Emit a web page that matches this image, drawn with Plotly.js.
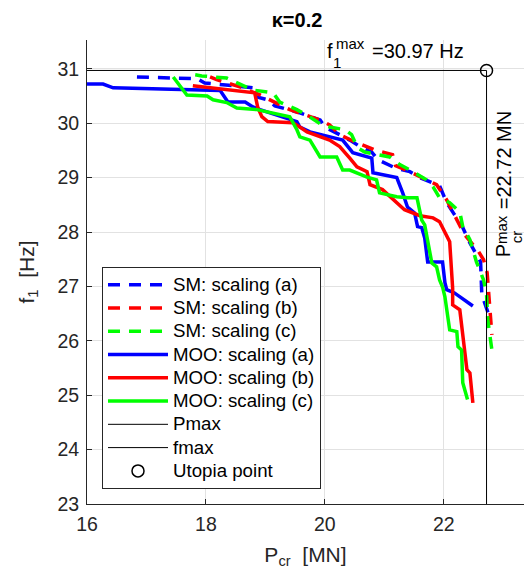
<!DOCTYPE html>
<html>
<head>
<meta charset="utf-8">
<script src="https://cdn.plot.ly/plotly-3.0.1.min.js"></script>
<style>html,body{margin:0;padding:0;background:#fff;}#chart{width:524px;height:571px;}</style>
</head>
<body>
<div id="chart"></div>
<script>
// ---- data ----
var smA_x = [16.84,17.85,17.98,18.66,18.82,18.84,19.04,19.16,19.58,19.92,20.00,20.25,20.42,20.62,20.79,20.89,21.18,21.43,21.60,21.93,22.05,22.18,22.30,22.44,22.62,22.64,22.77];
var smA_y = [30.85,30.82,30.74,30.67,30.65,30.49,30.43,30.32,30.19,30.06,29.93,29.79,29.69,29.55,29.47,29.33,29.18,29.11,29.00,28.85,28.54,28.32,28.13,27.80,27.45,26.85,26.44];

var smB_x = [18.07,18.18,18.57,18.91,19.41,19.92,20.08,20.25,20.50,20.84,21.14,21.19,21.43,21.88,22.05,22.22,22.35,22.57,22.67,22.73,22.77,22.81];
var smB_y = [30.85,30.80,30.67,30.52,30.25,30.06,29.97,29.79,29.66,29.51,29.42,29.22,29.11,28.87,28.59,28.22,27.95,27.67,27.49,27.25,26.76,26.11];

var smC_x = [17.82,17.93,18.35,18.66,18.79,19.13,19.24,19.53,19.70,19.92,20.08,20.34,20.45,20.55,20.67,21.09,21.26,21.43,21.71,21.82,21.93,22.10,22.27,22.32,22.44,22.55,22.67,22.72,22.74,22.81];
var smC_y = [30.89,30.87,30.83,30.67,30.61,30.56,30.39,30.25,30.15,29.99,29.93,29.88,29.79,29.55,29.47,29.38,29.24,29.14,28.96,28.83,28.63,28.54,28.37,28.10,27.86,27.45,27.12,26.85,26.39,25.83];

var mooA_x = [16.00,16.27,16.44,17.06,18.07,18.24,18.37,18.66,18.79,18.91,19.53,19.58,19.75,20.08,20.30,20.47,20.79,20.81,21.21,21.31,21.39,21.51,21.56,21.63,21.68,21.73,21.98,22.02,22.05,22.18,22.49];
var mooA_y = [30.72,30.72,30.65,30.63,30.61,30.60,30.39,30.39,30.30,30.25,30.03,29.93,29.84,29.75,29.69,29.46,29.36,29.09,29.00,28.72,28.46,28.35,28.10,28.08,27.89,27.45,27.45,27.07,26.94,26.88,26.64];

var mooB_x = [17.78,18.57,18.82,18.87,18.94,19.04,19.46,19.58,19.70,20.08,20.25,20.42,20.54,20.71,20.76,20.97,21.21,21.34,21.60,21.82,21.93,22.10,22.15,22.15,22.27,22.39,22.44,22.49];
var mooB_y = [30.69,30.58,30.56,30.30,30.12,30.03,30.01,29.93,29.84,29.69,29.57,29.36,29.20,29.11,28.87,28.78,28.54,28.41,28.30,28.26,28.19,27.82,26.97,26.66,26.57,25.47,25.41,24.86];

var mooC_x = [17.45,17.68,18.02,18.12,18.35,18.52,18.86,19.41,19.53,19.58,19.75,19.92,20.20,20.30,20.42,20.71,20.87,20.92,21.21,21.39,21.55,21.63,21.68,21.80,21.88,21.93,21.98,22.02,22.10,22.22,22.24,22.30,22.32,22.40];
var mooC_y = [30.85,30.52,30.50,30.43,30.38,30.28,30.25,30.12,29.88,29.75,29.69,29.38,29.38,29.14,29.14,29.01,28.96,28.72,28.65,28.63,28.63,28.22,28.13,27.43,27.36,27.12,26.99,26.81,26.20,26.17,25.89,25.83,25.23,24.92];

var pMax = 22.72;
var fMax = 30.97;
var xMin = 16, yMin = 23;

var legendNames = ['SM: scaling (a)','SM: scaling (b)','SM: scaling (c)','MOO: scaling (a)','MOO: scaling (b)','MOO: scaling (c)','Pmax','fmax','Utopia point'];
var xTicks = [16,18,20,22];
var yTicks = [23,24,25,26,27,28,29,30,31];
var titleText = '<b>κ=0.2</b>';

// ---- styles ----
var BLUE = '#0000ff', RED = '#ff0000', GREEN = '#00ff00';
var LW = 3.5, DASH = '12px,9px';
var FONT = 'Liberation Sans, Arial, Helvetica, sans-serif';
var INK = '#262626';

function legendLabel(s) { return '<span style="font-size:18.7px">' + s + '</span>'; }

function series(x, y, name, color, dash) {
  return {x: x, y: y, name: legendLabel(name), type: 'scatter', mode: 'lines',
          line: {color: color, width: LW, dash: dash}, hoverinfo: 'skip'};
}

var traces = [
  series(smA_x, smA_y, legendNames[0], BLUE, DASH),
  series(smB_x, smB_y, legendNames[1], RED, DASH),
  series(smC_x, smC_y, legendNames[2], GREEN, DASH),
  series(mooA_x, mooA_y, legendNames[3], BLUE, 'solid'),
  series(mooB_x, mooB_y, legendNames[4], RED, 'solid'),
  series(mooC_x, mooC_y, legendNames[5], GREEN, 'solid'),
  {x: [pMax, pMax], y: [yMin, fMax], name: legendLabel(legendNames[6]), type: 'scatter', mode: 'lines',
   line: {color: '#000000', width: 1}},
  {x: [xMin, pMax], y: [fMax, fMax], name: legendLabel(legendNames[7]), type: 'scatter', mode: 'lines',
   line: {color: '#000000', width: 1}},
  {x: [pMax], y: [fMax], name: legendLabel(legendNames[8]), type: 'scatter', mode: 'markers',
   marker: {symbol: 'circle-open', size: 12, color: '#000000', line: {width: 1.5, color: '#000000'}},
   cliponaxis: false}
];

var annFont = {family: FONT, size: 20, color: '#000'};
var supFont = {family: FONT, size: 15, color: '#000'};

var layout = {
  width: 524, height: 571,
  margin: {l: 87, r: 0, t: 40, b: 67, pad: 0},
  paper_bgcolor: '#ffffff', plot_bgcolor: '#ffffff',
  font: {family: FONT, color: INK},
  showlegend: true,
  title: {text: titleText, font: {family: FONT, size: 20, color: '#000'},
          xref: 'container', x: 297/524, xanchor: 'center',
          yref: 'container', y: 1 - 20/571, yanchor: 'middle'},
  xaxis: {range: [16, 23.35], tickmode: 'array', tickvals: xTicks, ticktext: xTicks.map(String),
          showgrid: true, gridcolor: '#e2e2e2', gridwidth: 1, zeroline: false,
          showline: true, linecolor: INK, linewidth: 1, mirror: false,
          ticks: 'inside', ticklen: 5, tickcolor: INK, tickwidth: 1,
          ticklabelstandoff: 3,
          tickfont: {family: FONT, size: 19.5, color: INK},
          title: {text: 'P<sub>cr</sub>  [MN]', font: {family: FONT, size: 21, color: INK}, standoff: 12},
          automargin: false},
  yaxis: {range: [23, 31.53], tickmode: 'array', tickvals: yTicks, ticktext: yTicks.map(String),
          showgrid: true, gridcolor: '#e2e2e2', gridwidth: 1, zeroline: false,
          showline: true, linecolor: INK, linewidth: 1, mirror: false,
          ticks: 'inside', ticklen: 5, tickcolor: INK, tickwidth: 1,
          ticklabelstandoff: 3,
          tickfont: {family: FONT, size: 19.5, color: INK},
          title: {text: 'f<sub>1</sub>  [Hz]', font: {family: FONT, size: 21, color: INK}, standoff: 17},
          automargin: false},
  legend: {x: (102-87)/437, y: (504-267)/464, xanchor: 'left', yanchor: 'top',
           bgcolor: '#ffffff', bordercolor: INK, borderwidth: 1,
           font: {family: FONT, size: 15.6, color: '#000'},
           itemwidth: 60, tracegroupgap: 0},
  annotations: [
    {xref: 'x', yref: 'y', x: 20.087, y: 31.33, text: 'f', showarrow: false, font: annFont, xanchor: 'center', yanchor: 'middle'},
    {xref: 'x', yref: 'y', x: 20.43, y: 31.47, text: 'max', showarrow: false, font: supFont, xanchor: 'center', yanchor: 'middle'},
    {xref: 'x', yref: 'y', x: 20.213, y: 31.11, text: '1', showarrow: false, font: supFont, xanchor: 'center', yanchor: 'middle'},
    {xref: 'x', yref: 'y', x: 21.56, y: 31.33, text: '=30.97 Hz', showarrow: false, font: annFont, xanchor: 'center', yanchor: 'middle'},
    {xref: 'x', yref: 'y', x: 23.0, y: 27.65, text: 'P', showarrow: false, font: annFont, textangle: -90, xanchor: 'center', yanchor: 'middle'},
    {xref: 'x', yref: 'y', x: 22.975, y: 28.05, text: 'max', showarrow: false, font: supFont, textangle: -90, xanchor: 'center', yanchor: 'middle'},
    {xref: 'x', yref: 'y', x: 23.215, y: 27.92, text: 'cr', showarrow: false, font: supFont, textangle: -90, xanchor: 'center', yanchor: 'middle'},
    {xref: 'x', yref: 'y', x: 23.013, y: 29.32, text: '=22.72 MN', showarrow: false, font: annFont, textangle: -90, xanchor: 'center', yanchor: 'middle'}
  ]
};

Plotly.newPlot('chart', traces, layout, {displayModeBar: false, staticPlot: true});
</script>
</body>
</html>
